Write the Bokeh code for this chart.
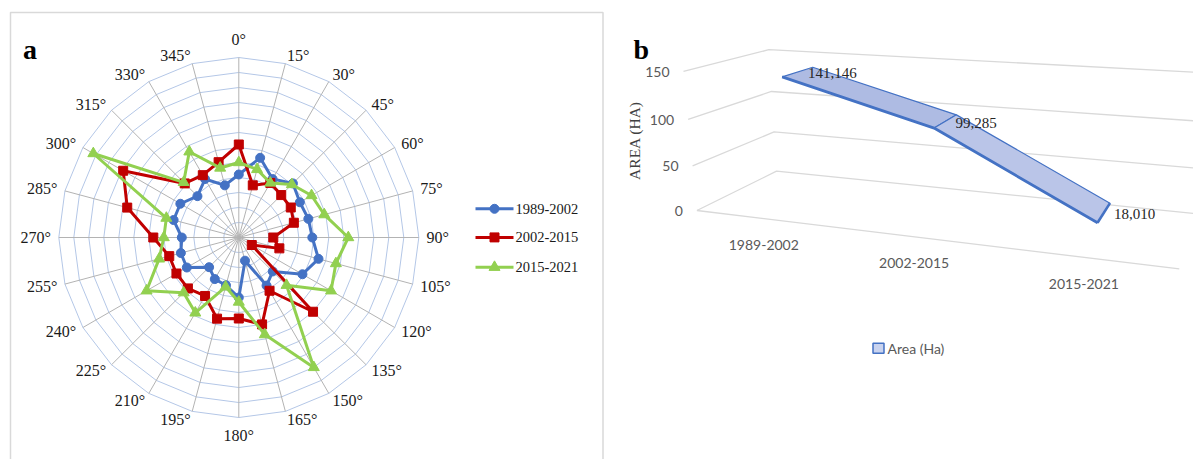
import numpy as np
from bokeh.plotting import figure
from bokeh.layouts import row
from bokeh.models import Range1d, ColumnDataSource
from bokeh.embed import file_html
from bokeh.resources import INLINE
from bokeh.core.properties import value

# ---------------- DATA ----------------
# panel a: radar, 24 directions (degrees), values in ring units (12 rings)
directions = [0, 15, 30, 45, 60, 75, 90, 105, 120, 135, 150, 165,
              180, 195, 210, 225, 240, 255, 270, 285, 300, 315, 330, 345]
direction_labels = ["0°", "15°", "30°", "45°", "60°", "75°", "90°", "105°",
                    "120°", "135°", "150°", "165°", "180°", "195°", "210°",
                    "225°", "240°", "255°", "270°", "285°", "300°", "315°",
                    "330°", "345°"]
series_names = ["1989-2002", "2002-2015", "2015-2021"]
s_1989_2002 = [4.2, 5.5, 4.5, 5.1, 4.7, 4.8, 4.9, 5.5, 4.9, 3.2, 3.7, 1.6,
               4.0, 3.3, 3.2, 2.8, 4.0, 4.0, 3.8, 4.5, 4.5, 3.9, 4.5, 3.6]
s_2002_2015 = [6.2, 3.6, 4.2, 4.0, 4.0, 3.8, 2.3, 2.8, 1.0, 7.0, 4.1, 6.0,
               5.4, 5.6, 4.5, 4.8, 4.8, 4.8, 5.7, 7.7, 8.9, 5.1, 4.8, 5.2]
s_2015_2021 = [5.0, 4.7, 4.2, 5.0, 5.6, 5.9, 7.3, 6.7, 7.1, 4.5, 10.0, 6.7,
               4.3, 3.4, 5.8, 5.2, 7.1, 5.5, 5.0, 5.0, 11.2, 5.2, 6.6, 4.8]
n_rings = 12

# panel b: 3-D line of area per period
periods = ["1989-2002", "2002-2015", "2015-2021"]
area_ha = [141146, 99285, 18010]
area_labels = ["141,146", "99,285", "18,010"]
y_ticks = [0, 50, 100, 150]
y_tick_labels = ["0", "50", "100", "150"]

# ---------------- STYLE ----------------
SERIF = value("Liberation Serif")
SANS = value("Lato")
colors = ["#4472C4", "#C00000", "#92D050"]
markers = ["circle", "square", "triangle"]
msizes = [9, 9, 11]

# =============== PANEL A (radar) ===============
PX = 15.0                      # px per ring unit
CX, CY = 238.3, 237.0          # page position of radar centre
WA, H = 604, 459
def ux(px):  # page x -> unit
    return (px - CX) / PX
def uy(py):  # page y -> unit
    return (CY - py) / PX

pa = figure(width=WA, height=H, output_backend="svg", toolbar_location=None,
            x_range=Range1d(ux(0), ux(WA)), y_range=Range1d(uy(H), uy(0)),
            x_axis_location=None, y_axis_location=None, min_border=0)
pa.grid.visible = False
pa.outline_line_color = None
pa.background_fill_color = "white"
pa.border_fill_color = "white"

th = np.deg2rad(np.array(directions, dtype=float))
sx, cx = np.sin(th), np.cos(th)

# frame of panel a
pa.line([ux(10), ux(10), ux(602.5), ux(602.5)], [uy(459), uy(12), uy(12), uy(459)],
        line_color="#d9d9d9", line_width=1.5)

# rings
for k in range(1, n_rings + 1):
    pa.patch(list(k * sx), list(k * cx), fill_color=None,
             line_color="#b4c7e7", line_width=1)
# spokes
pa.multi_line([[0, n_rings * s] for s in sx], [[0, n_rings * c] for c in cx],
              line_color="#b3b3b3", line_width=1)

# series
for vals, col, mk, ms in zip([s_1989_2002, s_2002_2015, s_2015_2021], colors, markers, msizes):
    v = np.array(vals)
    xs, ys = v * sx, v * cx
    pa.patch(list(xs), list(ys), fill_color=None, line_color=col, line_width=3,
             line_join="round")
    pa.scatter(xs, ys, marker=mk, size=ms, fill_color=col, line_color=col)

# direction labels
left_l, right_l, cen_l = dict(x=[], y=[], t=[]), dict(x=[], y=[], t=[]), dict(x=[], y=[], t=[])
for d, lab, s, c in zip(directions, direction_labels, sx, cx):
    ex, ey = n_rings * s, n_rings * c
    if d in (0, 180):
        cen_l["x"].append(ex)
        cen_l["y"].append(ey + np.sign(c) * 18.4 / PX)
        cen_l["t"].append(lab)
    elif s > 0:
        right_l["x"].append(ex + (-0.6 + 8.4 * s) / PX)
        right_l["y"].append(ey + 8.5 * c / PX)
        right_l["t"].append(lab)
    else:
        left_l["x"].append(ex - (-0.6 + 8.4 * abs(s)) / PX)
        left_l["y"].append(ey + 8.5 * c / PX)
        left_l["t"].append(lab)
for dct, al in [(cen_l, "center"), (right_l, "left"), (left_l, "right")]:
    pa.text(x="x", y="y", text="t", source=ColumnDataSource(dct),
            text_font=SERIF, text_font_size="16px", text_color="#1a1a1a",
            text_align=al, text_baseline="middle")

# legend (panel a)
leg_y = [208.3, 236.9, 266.7]
for name, ly, col, mk, ms in zip(series_names, leg_y, colors, markers, msizes):
    pa.line([ux(475), ux(513)], [uy(ly), uy(ly)], line_color=col, line_width=3)
    pa.scatter([ux(494)], [uy(ly)], marker=mk, size=ms, fill_color=col, line_color=col)
    pa.text([ux(515)], [uy(ly)], text=[name], text_font=SERIF, text_font_size="14.5px",
            text_color="#1a1a1a", text_align="left", text_baseline="middle")

pa.text([ux(22.5)], [uy(48.5)], text=["a"], text_font=SERIF, text_font_size="28px",
        text_font_style="bold", text_color="black", text_align="left",
        text_baseline="alphabetic")

# =============== PANEL B (3-D line) ===============
WB = 1193 - WA
pb = figure(width=WB, height=H, output_backend="svg", toolbar_location=None,
            x_range=Range1d(WA, WA + WB), y_range=Range1d(H, 0),
            x_axis_location=None, y_axis_location=None, min_border=0)
pb.grid.visible = False
pb.outline_line_color = None
pb.background_fill_color = "white"
pb.border_fill_color = "white"

# perspective camera: origin, vanishing points of X (category), Y (value), Z (depth)
O = (696.4, 210.0)
VX, VY, VZ = (-1708.0, -81.0), (936.0, 2697.0), (1291.0, -83.6)
KX, KY, KZ = -0.0557, -3.531e-4, 0.1546

def proj(X, Y, Z):
    X, Y, Z = np.asarray(X, float), np.asarray(Y, float), np.asarray(Z, float)
    w = 1 + KX * X + KY * Y + KZ * Z
    hx = O[0] + KX * X * VX[0] + KY * Y * VY[0] + KZ * Z * VZ[0]
    hy = O[1] + KX * X * VX[1] + KY * Y * VY[1] + KZ * Z * VZ[1]
    return hx / w, hy / w

ncat = len(periods)
Xc = np.arange(ncat) + 0.5
Yv = np.array(area_ha) / 1000.0
ZF, ZB = 0.3, 0.7

# walls / gridlines
gx, gy = [], []
for t in y_ticks:
    x, y = proj([0, 0, ncat], [t, t, t], [0, 1, 1])
    gx.append(list(x)); gy.append(list(y))
x, y = proj([0, ncat], [0, 0], [0, 0])
gx.append(list(x)); gy.append(list(y))
pb.multi_line(gx, gy, line_color="#d9d9d9", line_width=1.3)

# ribbon faces
fx, fy = proj(Xc, Yv, np.full(ncat, ZF))
bx, by = proj(Xc, Yv, np.full(ncat, ZB))
seg_fill = ["#aebbe3", "#bac5e8"]
for i in range(ncat - 1):
    pb.patch([fx[i], fx[i + 1], bx[i + 1], bx[i]], [fy[i], fy[i + 1], by[i + 1], by[i]],
             fill_color=seg_fill[i], line_color="#4472C4", line_width=1.2)
pb.line(list(fx), list(fy), line_color="#4472C4", line_width=2.8)
pb.line([fx[-1], bx[-1]], [fy[-1], by[-1]], line_color="#4472C4", line_width=2.6)

# data labels
mx, my = proj(Xc, Yv, np.full(ncat, 0.5))
pb.text(list(mx + 10), list(my + 1.5), text=area_labels, text_font=SERIF,
        text_font_size="15px", text_color="#262626", text_align="left",
        text_baseline="middle")

# value tick labels
tx, ty = proj(np.zeros(len(y_ticks)), y_ticks, np.zeros(len(y_ticks)))
pb.text(list(tx - 14), list(ty + 0.5), text=y_tick_labels, text_font=SANS,
        text_font_size="14px", text_color="#595959", text_align="right",
        text_baseline="middle")

# category labels
cxp, cyp = proj(Xc, np.zeros(ncat), np.zeros(ncat))
pb.text(list(cxp - 2), list(cyp + 26), text=periods, text_font=SANS,
        text_font_size="14px", text_color="#595959", text_align="center",
        text_baseline="middle")

# axis title
pb.text([634], [140], text=["AREA (HA)"], angle=np.pi / 2, text_font=SERIF,
        text_font_size="15.5px", text_color="#404040", text_align="center",
        text_baseline="middle")

# legend (panel b)
pb.rect([878], [347.7], width=11, height=10, fill_color="#c9d3ef",
        line_color="#4472C4", line_width=1.5)
pb.text([887], [348], text=["Area (Ha)"], text_font=SANS, text_font_size="14px",
        text_color="#595959", text_align="left", text_baseline="middle")

pb.text([633], [49], text=["b"], text_font=SERIF, text_font_size="28px",
        text_font_style="bold", text_color="black", text_align="left",
        text_baseline="alphabetic")

layout = row(pa, pb)
open("out.html", "w").write(file_html(layout, INLINE))
